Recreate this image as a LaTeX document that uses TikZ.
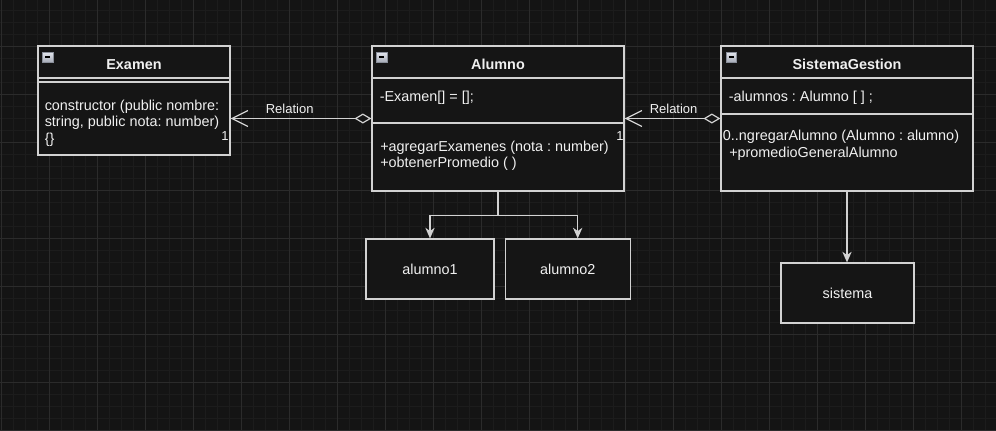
\documentclass[tikz,border=0pt]{standalone}
\usepackage{fontspec}
\setmainfont{Liberation Sans}
\usetikzlibrary{arrows.meta,calc}
\definecolor{bgc}{HTML}{141414}
\definecolor{boxc}{HTML}{151515}
\definecolor{minorgridc}{HTML}{1C1C1C}
\definecolor{majorgridc}{HTML}{2B2B2B}
\definecolor{strokec}{HTML}{D2D2D2}
\definecolor{textc}{HTML}{F0F0F0}
\definecolor{icontop}{HTML}{E4E7EE}
\definecolor{iconbot}{HTML}{A3A8B4}
\definecolor{iconedge}{HTML}{8A8F9A}
\frenchspacing
\begin{document}
\begin{tikzpicture}[x=0.75pt,y=-0.75pt,
  minorgrid/.style={draw=minorgridc,line width=0.6pt},
  majorgrid/.style={draw=majorgridc,line width=0.75pt},
  cls/.style={draw=strokec,fill=boxc,line width=0.9pt,inner sep=0pt},
  sep/.style={draw=strokec,line width=0.9pt},
  txt/.style={text=textc,font=\fontsize{10.8}{13}\selectfont,inner sep=0pt,anchor=base west},
  ttl/.style={text=textc,font=\fontsize{10.8}{13}\selectfont\bfseries,inner sep=0pt,anchor=base},
  lbl/.style={text=textc,font=\fontsize{9.75}{11}\selectfont,inner sep=0pt,anchor=base},
  objbox/.style={draw=strokec,fill=boxc,line width=0.9pt,inner sep=0pt,text=textc,font=\fontsize{10.8}{13}\selectfont,minimum height=45pt},
  conn/.style={draw=strokec,line width=0.9pt},
  relation/.style={conn,{Diamond[open,fill=boxc,length=12.75pt,width=7.5pt]}-{Straight Barb[length=12pt,width=12pt]}},
  flow/.style={conn,-{Stealth[length=8pt,width=7pt,inset=2.5pt]}},
  minusicon/.pic={
    \shade[top color=icontop,bottom color=iconbot,draw=iconedge,line width=0.5pt] (0,0) rectangle (10.7,10.7);
    \draw[black,line width=1.4pt] (2.8,5.35) -- (7.9,5.35);
  }]
\useasboundingbox (0,0) rectangle (996,430);
\fill[bgc] (0,0) rectangle (996,430);
\begin{scope}
\clip (0,0) rectangle (996,430);
\foreach \x in {1,13,...,997} \draw[minorgrid] (\x,0) -- (\x,430);
\foreach \y in {10,22,...,430} \draw[minorgrid] (0,\y) -- (996,\y);
\foreach \x in {1,49,...,997} \draw[majorgrid] (\x,0) -- (\x,430);
\foreach \y in {46,94,...,430} \draw[majorgrid] (0,\y) -- (996,\y);
\end{scope}

% class boxes
\node[cls,minimum width=144pt,minimum height=81.75pt] (examen) at (134,100.5) {};
\node[cls,minimum width=189pt,minimum height=108.75pt] (alumno) at (498,118.5) {};
\node[cls,minimum width=189pt,minimum height=108.75pt] (sistemag) at (847,118.5) {};

% separators
\draw[sep] (examen.west |- 0,78) -- (examen.east |- 0,78);
\draw[sep] (examen.west |- 0,82) -- (examen.east |- 0,82);
\draw[sep] (alumno.west |- 0,78) -- (alumno.east |- 0,78);
\draw[sep] (alumno.west |- 0,123) -- (alumno.east |- 0,123);
\draw[sep] (sistemag.west |- 0,78) -- (sistemag.east |- 0,78);
\draw[sep] (sistemag.west |- 0,114) -- (sistemag.east |- 0,114);

% icons
\pic at (42.5,52) {minusicon};
\pic at (376.5,52) {minusicon};
\pic at (726,52) {minusicon};

% titles
\node[ttl] (tExamen) at (134,69) {Examen};
\node[ttl] (tAlumno) at (498,69) {Alumno};
\node[ttl] (tSistema) at (847,69) {SistemaGestion};

% Examen body
\node[txt] (e1) at (44.5,110) {constructor (public nombre:};
\node[txt] (e2) at (44.5,126.7) {string, public nota: number)};
\node[txt] (e3) at (44.5,143.4) {\{\}};

% Alumno body
\node[txt] (a1) at (379.5,101) {-Examen[] = [];};
\node[txt] (a2) at (380,151) {+agregarExamenes (nota : number)};
\node[txt] (a3) at (380,167.7) {+obtenerPromedio ( )};

% SistemaGestion body
\node[txt] (s1) at (728.5,101) {-alumnos : Alumno [ ] ;};
\node[txt] (s2) at (722.7,140) {0..ngregarAlumno (Alumno : alumno)};
\node[txt] (s3) at (729,157.3) {+promedioGeneralAlumno};

% object boxes
\node[objbox,minimum width=96pt] (alumno1) at (430,269) {alumno1};
\node[objbox,minimum width=93.75pt] (alumno2) at (567.7,269) {alumno2};
\node[objbox,minimum width=99.75pt] (sistema) at (847.5,293) {sistema};

% relations
\draw[relation] (alumno.west) -- (alumno.west -| examen.east);
\draw[relation] (sistemag.west) -- (sistemag.west -| alumno.east);
\node[lbl] (rel1) at (289.7,113.3) {Relation};
\node[lbl] (rel2) at (673.6,113.3) {Relation};
\node[lbl] (m1) at (225,140) {1};
\node[lbl] (m2) at (620,140) {1};

% instance arrows
\draw[flow] (alumno.south) -- ++(0,24) -| (alumno1.north);
\draw[flow] (alumno.south) -- ++(0,24) -| ($(alumno2.north)+(10,0)$);
\draw[flow] (sistemag.south) -- (sistemag.south |- sistema.north);
\end{tikzpicture}
\end{document}
